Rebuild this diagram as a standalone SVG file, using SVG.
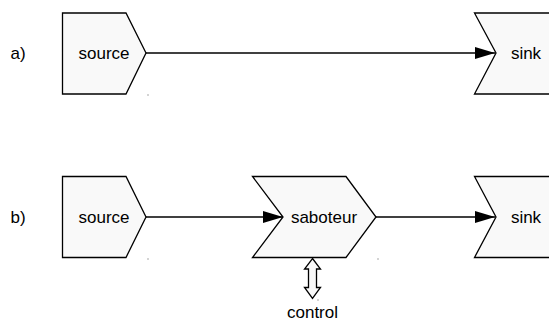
<svg xmlns="http://www.w3.org/2000/svg" width="549" height="322" viewBox="0 0 549 322">
  <style>
    .shape { fill: #f9f9f9; stroke: #000; stroke-width: 1.3; stroke-linejoin: miter; }
    .lbl { font-family: "Liberation Sans", Arial, sans-serif; font-size: 17px; fill: #000; text-anchor: middle; }
    .edge { stroke: #000; stroke-width: 1.3; fill: none; }
    .dot { fill: #555; }
  </style>
  <defs>
    <marker id="arrow" markerWidth="20" markerHeight="12" refX="20" refY="6" orient="auto" markerUnits="userSpaceOnUse">
      <path d="M0,0 L20,6 L0,12 Z" fill="#000"/>
    </marker>
  </defs>

  <rect width="549" height="322" fill="#fff"/>

  <!-- row labels -->
  <text class="lbl" x="18" y="59">a)</text>
  <text class="lbl" x="18" y="223">b)</text>

  <!-- connectors -->
  <g id="connectors">
    <line class="edge" x1="146" y1="53" x2="495" y2="53" marker-end="url(#arrow)"/>
    <line class="edge" x1="146" y1="217" x2="283" y2="217" marker-end="url(#arrow)"/>
    <line class="edge" x1="376" y1="217" x2="495" y2="217" marker-end="url(#arrow)"/>
    <!-- control: hollow double arrow -->
    <path class="shape" d="M312.5,258.5 L320.5,269 L316.5,269 L316.5,287.5 L320.5,287.5 L312.5,298.5 L304.5,287.5 L308.5,287.5 L308.5,269 L304.5,269 Z" fill="#fff"/>
  </g>

  <!-- row a -->
  <g id="source-a">
    <polygon class="shape" points="62.5,13 126,13 146,53 126,94 62.5,94"/>
    <text class="lbl" x="104" y="59">source</text>
  </g>
  <g id="sink-a">
    <polygon class="shape" points="474.5,13 552,13 552,94 474.5,94 496,53"/>
    <text class="lbl" x="526" y="59">sink</text>
  </g>

  <!-- row b -->
  <g id="source-b">
    <polygon class="shape" points="62.5,176.5 126,176.5 146,217 126,257.5 62.5,257.5"/>
    <text class="lbl" x="104" y="223">source</text>
  </g>
  <g id="saboteur">
    <polygon class="shape" points="252.5,176.5 346,176.5 376,217 346,257.5 252.5,257.5 283,217"/>
    <text class="lbl" x="324" y="223">saboteur</text>
  </g>
  <g id="sink-b">
    <polygon class="shape" points="474.5,176.5 552,176.5 552,257.5 474.5,257.5 496,217"/>
    <text class="lbl" x="526" y="223">sink</text>
  </g>
  <g id="control">
    <text class="lbl" x="312.5" y="318">control</text>
  </g>

  <!-- small marks -->
  <rect class="dot" x="147.5" y="94.5" width="1" height="1"/>
  <rect class="dot" x="377.5" y="258.5" width="1" height="1"/>
  <rect class="dot" x="147.5" y="258.5" width="1" height="1"/>
  <rect class="dot" x="317.5" y="299.5" width="1" height="1"/>
</svg>
